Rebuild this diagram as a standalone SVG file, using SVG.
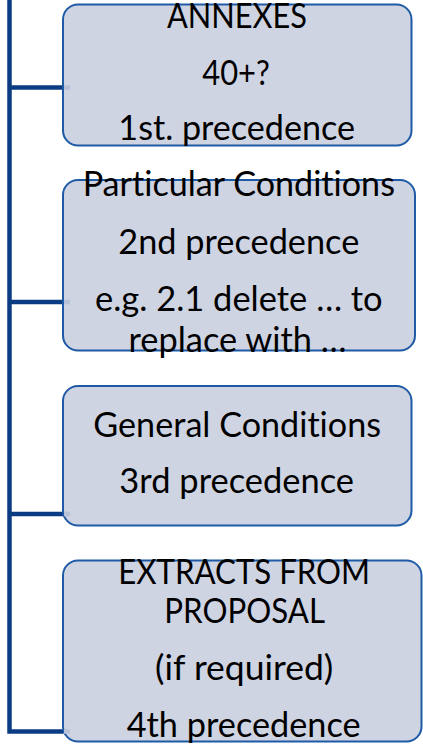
<svg xmlns="http://www.w3.org/2000/svg" width="423" height="744" viewBox="0 0 423 744">
<style>
.box{fill:#cfd4e2;stroke:#1f5aa6;stroke-width:2}
.conn{fill:none;stroke:#0b3c83;stroke-width:4.5;stroke-linejoin:miter}
.stub{stroke:#b7c1d8;stroke-width:4.5}
.t{font-family:Lato,"Open Sans","DejaVu Sans",sans-serif;font-size:35px;fill:#000;text-anchor:middle;font-variant-ligatures:none;font-feature-settings:"liga" 0}
</style>
<rect width="423" height="744" fill="#fff"/>
<g id="connectors">
<path class="conn" d="M9.5,0 V731.5 H63.5"/>
<path class="conn" d="M9.5,87.5 H63.5"/>
<path class="conn" d="M9.5,302 H63.5"/>
<path class="conn" d="M9.5,514 H63.5"/>
</g>
<g id="annexes">
<rect class="box" x="63" y="4.5" width="348.5" height="141" rx="15"/>
<line class="stub" x1="64" y1="87.5" x2="70" y2="87.5"/>
<text class="t" x="237" y="27.5" textLength="140" lengthAdjust="spacingAndGlyphs">ANNEXES</text>
<text class="t" x="236" y="85" textLength="67.5" lengthAdjust="spacingAndGlyphs">40+?</text>
<text class="t" x="236.7" y="140" textLength="236.7" lengthAdjust="spacingAndGlyphs">1st. precedence</text>
</g>
<g id="particular">
<rect class="box" x="63" y="180" width="352" height="170.5" rx="15"/>
<line class="stub" x1="64" y1="302" x2="70" y2="302"/>
<text class="t" x="238.8" y="196" textLength="312.3" lengthAdjust="spacingAndGlyphs">Particular Conditions</text>
<text class="t" x="238.8" y="254" textLength="241" lengthAdjust="spacingAndGlyphs">2nd precedence</text>
<text class="t" x="238.8" y="310.7" textLength="287.7" lengthAdjust="spacingAndGlyphs">e.g. 2.1 delete … to</text>
<text class="t" x="237.5" y="351.7" textLength="218" lengthAdjust="spacingAndGlyphs">replace with …</text>
</g>
<g id="general">
<rect class="box" x="63" y="386" width="348.5" height="139.5" rx="15"/>
<line class="stub" x1="64" y1="514" x2="70" y2="514"/>
<text class="t" x="237.2" y="436.7" textLength="287.7" lengthAdjust="spacingAndGlyphs">General Conditions</text>
<text class="t" x="236.7" y="493.3" textLength="234.7" lengthAdjust="spacingAndGlyphs">3rd precedence</text>
</g>
<g id="extracts">
<rect class="box" x="63" y="560.5" width="358.5" height="181" rx="15"/>
<line class="stub" x1="64" y1="731.5" x2="70" y2="731.5"/>
<text class="t" x="244.2" y="584" textLength="251.7" lengthAdjust="spacingAndGlyphs">EXTRACTS FROM</text>
<text class="t" x="244.7" y="623.3" textLength="160.7" lengthAdjust="spacingAndGlyphs">PROPOSAL</text>
<text class="t" x="244.2" y="680" textLength="178.3" lengthAdjust="spacingAndGlyphs">(if required)</text>
<text class="t" x="243.7" y="736.7" textLength="234" lengthAdjust="spacingAndGlyphs">4th precedence</text>
</g>
</svg>
